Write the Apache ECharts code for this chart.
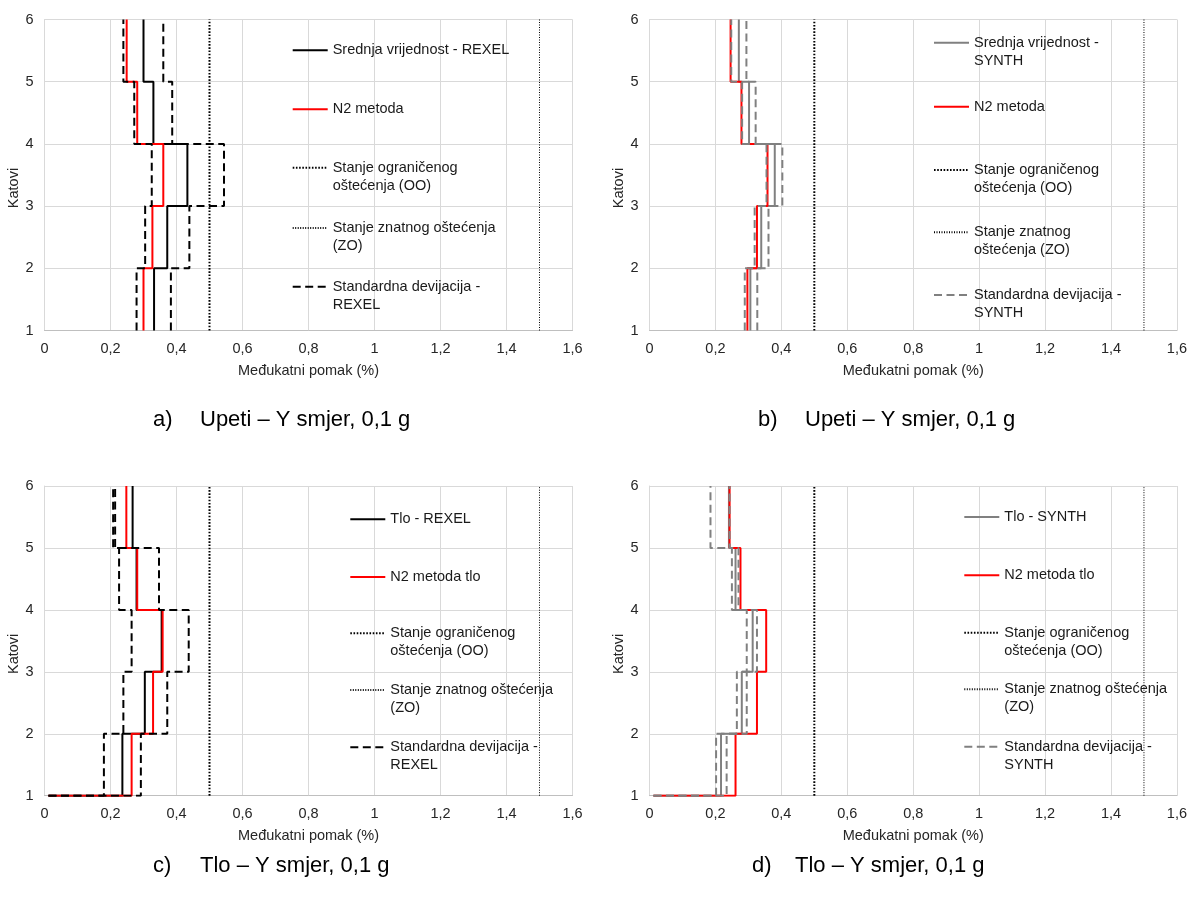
<!DOCTYPE html>
<html><head><meta charset="utf-8">
<script src="https://cdn.jsdelivr.net/npm/echarts@6/dist/echarts.min.js"></script>
<style>html,body{margin:0;padding:0;background:#fff}#c{width:1190px;height:897px}</style>
</head><body><div id="c"></div>
<script>
// ---------- data ----------
const storeys = [1, 2, 3, 4, 5, 6];
const xTickLabels = ['0', '0,2', '0,4', '0,6', '0,8', '1', '1,2', '1,4', '1,6'];
const limitOO = 0.5;   // Stanje ograničenog oštećenja
const limitZO = 1.5;   // Stanje znatnog oštećenja
const groundStart = 0.012; // starting drift at ground (panels c, d)

// values per storey (1-2, 2-3, 3-4, 4-5, 5-6), drift in %
// a) Upeti – REXEL
const aMean    = [0.332, 0.372, 0.433, 0.330, 0.300];
const aN2      = [0.300, 0.327, 0.360, 0.281, 0.249];
const aStdLow  = [0.279, 0.305, 0.325, 0.272, 0.239];
const aStdHigh = [0.383, 0.439, 0.544, 0.387, 0.360];
// b) Upeti – SYNTH
const bMean    = [0.306, 0.339, 0.380, 0.302, 0.271];
const bN2      = [0.297, 0.326, 0.358, 0.279, 0.246];
const bStdLow  = [0.289, 0.319, 0.355, 0.281, 0.248];
const bStdHigh = [0.327, 0.361, 0.403, 0.322, 0.294];
// c) Tlo – REXEL
const cMean    = [0.236, 0.304, 0.355, 0.279, 0.267];
const cN2      = [0.264, 0.329, 0.358, 0.281, 0.248];
const cStdLow  = [0.180, 0.239, 0.264, 0.226, 0.208];
const cStdHigh = [0.292, 0.372, 0.437, 0.347, 0.214];
// d) Tlo – SYNTH
const dMean    = [0.217, 0.280, 0.313, 0.261, 0.241];
const dN2      = [0.261, 0.326, 0.354, 0.276, 0.243];
const dStdLow  = [0.202, 0.265, 0.295, 0.250, 0.185];
const dStdHigh = [0.234, 0.295, 0.326, 0.270, 0.243];

const captionsLetter = ['a)', 'b)', 'c)', 'd)'];
const captionsText = ['Upeti – Y smjer, 0,1 g', 'Upeti – Y smjer, 0,1 g', 'Tlo – Y smjer, 0,1 g', 'Tlo – Y smjer, 0,1 g'];

// ---------- build ----------
const FONT = '"Liberation Sans", Arial, sans-serif';
function steps(vals, start) {
  const pts = [];
  if (start != null) pts.push([start, storeys[0]]);
  vals.forEach((v, i) => { pts.push([v, storeys[i]]); pts.push([v, storeys[i + 1]]); });
  return pts;
}
function vline(x) { return [[x, storeys[0]], [x, storeys[storeys.length - 1]]]; }

const panels = [
  {grid: {left: 44.5, top: 19.5, width: 528, height: 311}, mean: aMean, n2: aN2, lo: aStdLow, hi: aStdHigh, start: null,
   meanName: 'Srednja vrijednost - REXEL', n2Name: 'N2 metoda', stdName: 'Standardna devijacija - REXEL', col: '#000000',
   legX: 291.7, legY: [49.3, 108.3, 167.7, 228, 286.7],
   legText: ['Srednja vrijednost - REXEL', 'N2 metoda', 'Stanje ograničenog\noštećenja (OO)', 'Stanje znatnog oštećenja\n(ZO)', 'Standardna devijacija -\nREXEL']},
  {grid: {left: 649.5, top: 19.5, width: 527.5, height: 311}, mean: bMean, n2: bN2, lo: bStdLow, hi: bStdHigh, start: null,
   meanName: 'Srednja vrijednost - SYNTH', n2Name: 'N2 metoda', stdName: 'Standardna devijacija - SYNTH', col: '#808080',
   legX: 933, legY: [42.7, 105.7, 170, 232.3, 295],
   legText: ['Srednja vrijednost -\nSYNTH', 'N2 metoda', 'Stanje ograničenog\noštećenja (OO)', 'Stanje znatnog\noštećenja (ZO)', 'Standardna devijacija -\nSYNTH']},
  {grid: {left: 44.5, top: 486, width: 528, height: 309.7}, mean: cMean, n2: cN2, lo: cStdLow, hi: cStdHigh, start: groundStart,
   meanName: 'Tlo - REXEL', n2Name: 'N2 metoda tlo', stdName: 'Standardna devijacija - REXEL', col: '#000000',
   legX: 349.3, legY: [518.3, 576, 633.3, 690, 747.3],
   legText: ['Tlo - REXEL', 'N2 metoda tlo', 'Stanje ograničenog\noštećenja (OO)', 'Stanje znatnog oštećenja\n(ZO)', 'Standardna devijacija -\nREXEL']},
  {grid: {left: 649.5, top: 486, width: 527.5, height: 309.7}, mean: dMean, n2: dN2, lo: dStdLow, hi: dStdHigh, start: groundStart,
   meanName: 'Tlo - SYNTH', n2Name: 'N2 metoda tlo', stdName: 'Standardna devijacija - SYNTH', col: '#808080',
   legX: 963.3, legY: [516, 574.3, 632.7, 689.3, 746.7],
   legText: ['Tlo - SYNTH', 'N2 metoda tlo', 'Stanje ograničenog\noštećenja (OO)', 'Stanje znatnog oštećenja\n(ZO)', 'Standardna devijacija -\nSYNTH']}
];
const captionPos = [
  {lx: 153, tx: 200, y: 420}, {lx: 758, tx: 805, y: 420},
  {lx: 153, tx: 200, y: 866}, {lx: 752, tx: 795, y: 866}
];

const grids = [], xAxes = [], yAxes = [], series = [], legends = [], titles = [];
const OO = 'Stanje ograničenog oštećenja (OO)', ZO = 'Stanje znatnog oštećenja (ZO)';
panels.forEach((p, k) => {
  grids.push(p.grid);
  xAxes.push({type: 'value', gridIndex: k, min: 0, max: 1.6, interval: 0.2,
    name: 'Međukatni pomak (%)', nameLocation: 'middle', nameGap: 33,
    nameTextStyle: {fontFamily: FONT, fontSize: 14.5, color: '#262626'},
    axisLine: {lineStyle: {color: '#bfbfbf', width: 1}}, axisTick: {show: false},
    axisLabel: {fontFamily: FONT, fontSize: 14.5, color: '#262626', margin: 11,
      formatter: v => xTickLabels[Math.round(v / 0.2)]},
    splitLine: {show: true, lineStyle: {color: '#d9d9d9', width: 1}}});
  yAxes.push({type: 'value', gridIndex: k, min: 1, max: 6, interval: 1,
    name: 'Katovi', nameLocation: 'middle', nameGap: 16, nameRotate: 90,
    nameTextStyle: {fontFamily: FONT, fontSize: 14.5, color: '#262626', padding: [0, 26, 0, 0]},
    axisLine: {show: true, lineStyle: {color: '#d9d9d9', width: 1}}, axisTick: {show: false},
    axisLabel: {fontFamily: FONT, fontSize: 14.5, color: '#262626', margin: 11},
    splitLine: {show: true, lineStyle: {color: '#d9d9d9', width: 1}}});
  const base = {type: 'line', xAxisIndex: k, yAxisIndex: k, symbol: 'none', silent: true, animation: false};
  series.push(Object.assign({}, base, {name: p.meanName, data: steps(p.mean, p.start), lineStyle: {color: p.col, width: 2}, itemStyle: {color: p.col}}));
  series.push(Object.assign({}, base, {name: p.n2Name, data: steps(p.n2, p.start), lineStyle: {color: '#ff0000', width: 2}, itemStyle: {color: '#ff0000'}}));
  series.push(Object.assign({}, base, {name: OO, data: vline(limitOO), lineStyle: {color: '#000', width: 2, type: [1.6, 1.6]}, itemStyle: {color: '#000'}}));
  series.push(Object.assign({}, base, {name: ZO, data: vline(limitZO), lineStyle: {color: '#000', width: 1, type: [1, 1.5]}, itemStyle: {color: '#000'}}));
  series.push(Object.assign({}, base, {name: p.stdName, data: steps(p.lo, p.start), lineStyle: {color: p.col, width: 2, type: [8, 4.5]}, itemStyle: {color: p.col}}));
  series.push(Object.assign({}, base, {name: p.stdName, data: steps(p.hi, p.start), lineStyle: {color: p.col, width: 2, type: [8, 4.5]}, itemStyle: {color: p.col}}));
  const names = [p.meanName, p.n2Name, OO, ZO, p.stdName];
  names.forEach((nm, j) => {
    const two = p.legText[j].indexOf('\n') >= 0;
    legends.push({data: [nm], left: p.legX, top: p.legY[j] - (two ? 27 : 8), orient: 'vertical',
      selectedMode: false, padding: 0, itemGap: 0, itemWidth: 35, itemHeight: 14,
      itemStyle: {opacity: 0},
      formatter: two ? ' \n' + p.legText[j] : p.legText[j],
      textStyle: {fontFamily: FONT, fontSize: 14.5, lineHeight: 18, color: '#1a1a1a'}});
  });
  const cp = captionPos[k];
  titles.push({text: captionsLetter[k], left: cp.lx, top: cp.y - 13, padding: 0,
    textStyle: {fontFamily: FONT, fontSize: 22, fontWeight: 'normal', color: '#000', lineHeight: 26}});
  titles.push({text: captionsText[k], left: cp.tx, top: cp.y - 13, padding: 0,
    textStyle: {fontFamily: FONT, fontSize: 22, fontWeight: 'normal', color: '#000', lineHeight: 26}});
});

const chart = echarts.init(document.getElementById('c'), null, {renderer: 'canvas'});
chart.setOption({
  backgroundColor: '#ffffff', animation: false,
  title: titles, legend: legends, grid: grids, xAxis: xAxes, yAxis: yAxes, series: series
});
</script></body></html>
